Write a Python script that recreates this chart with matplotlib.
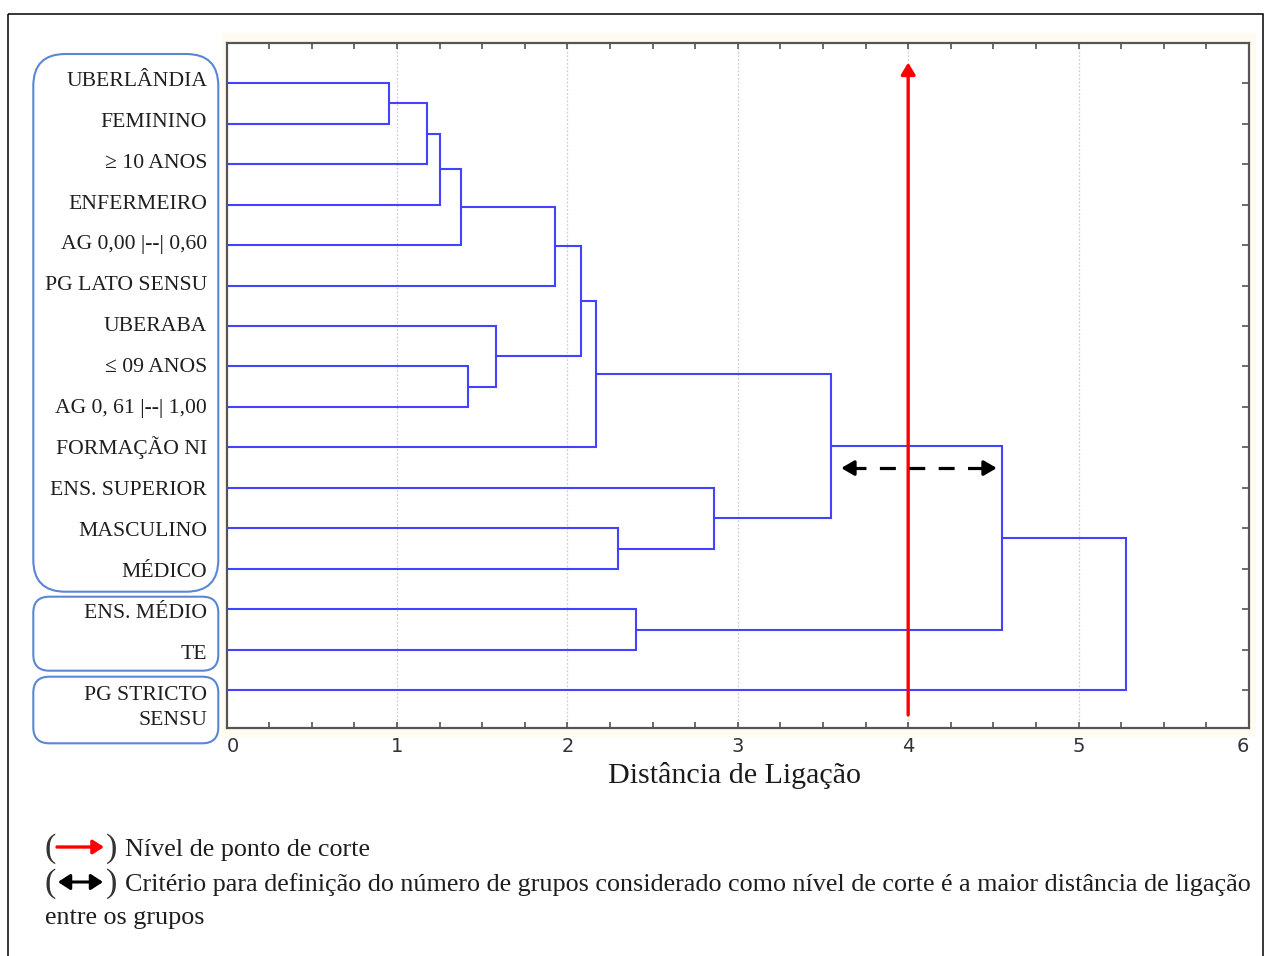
import matplotlib
matplotlib.use("Agg")
import matplotlib.pyplot as plt
from matplotlib.patches import FancyBboxPatch, Rectangle, FancyArrowPatch
from matplotlib.transforms import Affine2D, blended_transform_factory
import numpy as np

# ---------------- data ----------------
leaf_labels = [
    "UBERLÂNDIA", "FEMININO", "≥ 10 ANOS", "ENFERMEIRO", "AG 0,00 |--| 0,60",
    "PG LATO SENSU", "UBERABA", "≤ 09 ANOS", "AG 0, 61 |--| 1,00", "FORMAÇÃO NI",
    "ENS. SUPERIOR", "MASCULINO", "MÉDICO", "ENS. MÉDIO", "TE", "PG STRICTO\nSENSU",
]
# merges: (child_a, child_b) -> new cluster id = 16 + index
merge_left = [0, 16, 17, 18, 7, 6, 19, 22, 23, 11, 13, 10, 24, 28, 29]
merge_right = [1, 2, 3, 4, 8, 20, 5, 21, 9, 12, 14, 25, 27, 26, 15]
merge_dist = [0.955, 1.176, 1.251, 1.378, 1.417, 1.583, 1.927, 2.078, 2.171,
              2.300, 2.405, 2.858, 3.550, 4.548, 5.276]
cut_level = 4.0
gap_from, gap_to = 3.607, 4.52
x_ticks = [0, 1, 2, 3, 4, 5, 6]
x_label = "Distância de Ligação"
caption1 = "Nível de ponto de corte"
caption2 = ("Critério para definição do número de grupos considerado como nível "
            "de corte é a maior distância de ligação")
caption3 = "entre os grupos"

# ---------------- figure ----------------
W, H = 1265, 956
fig = plt.figure(figsize=(W / 100, H / 100), dpi=100)
fig.patch.set_facecolor("white")
px = Affine2D().scale(1 / W, -1 / H).translate(0, 1) + fig.transFigure

SERIF = ["Liberation Serif", "DejaVu Serif"]
BLUE = "#4343ff"
BOXC = "#5a86d6"
TXT = "#1e1e1e"

fig.add_artist(Rectangle((222, 33), 1034, 704, transform=px, facecolor="#fffbf0",
                         edgecolor="none", zorder=-5))
fig.add_artist(Rectangle((7.5, 13.5), 1255, 1000, transform=px, fill=False,
                         edgecolor="black", lw=1.1, zorder=-4))

L, R, T, B = 226.5, 1249, 42.7, 728.3
ax = fig.add_axes([L / W, 1 - B / H, (R - L) / W, (B - T) / H])
ax.set_facecolor("white")
ax.set_xlim(0, 6)
ax.set_ylim(16.94, 0)

# dendrogram
n = len(leaf_labels)
pos = {i: float(i + 1) for i in range(n)}
hgt = {i: 0.0 for i in range(n)}
for k, (a, b, d) in enumerate(zip(merge_left, merge_right, merge_dist)):
    ya, yb = pos[a], pos[b]
    ax.plot([hgt[a], d, d, hgt[b]], [ya, ya, yb, yb], color=BLUE, lw=1.5,
            solid_joinstyle="miter", zorder=3)
    pos[n + k] = (ya + yb) / 2
    hgt[n + k] = d

# grid
for xv in x_ticks[1:-1]:
    ax.axvline(xv, color="#cfcfcf", lw=0.9, ls=(0, (1.5, 1.5)), zorder=1)

# spines and ticks
for s in ax.spines.values():
    s.set_color("#555555")
    s.set_linewidth(1.6)
ax.set_xticks(x_ticks)
ax.set_xticks(np.arange(0, 6.01, 0.25), minor=True)
ax.set_yticks(np.arange(1, n + 1))
ax.set_yticklabels([])
ax.tick_params(axis="both", which="both", direction="in", top=True, right=True,
               color="#444444", width=1.1)
ax.tick_params(axis="x", which="both", length=4)
ax.tick_params(axis="y", length=5)
ax.tick_params(axis="x", which="major", labelsize=14, pad=6, labelcolor="#333333")
xtl = ax.get_xticklabels()
for t in xtl:
    t.set_family("DejaVu Sans")
xtl[0].set_horizontalalignment("left")
xtl[-1].set_horizontalalignment("right")

# cut line
ax.annotate("", xy=(cut_level, 0.49), xytext=(cut_level, 16.61),
            arrowprops=dict(arrowstyle="-|>,head_length=0.5,head_width=0.3",
                            color="#ff0000", lw=2.4, shrinkA=0, shrinkB=0,
                            mutation_scale=14), zorder=5)
# gap arrow
ygap = 10.51
ax.plot([gap_from + 0.05, gap_to - 0.05], [ygap, ygap], color="black", lw=2.3,
        ls=(0, (5.0, 4.2)), zorder=6)
for xa, xb in [(gap_from + 0.07, gap_from), (gap_to - 0.07, gap_to)]:
    ax.annotate("", xy=(xb, ygap), xytext=(xa, ygap),
                arrowprops=dict(arrowstyle="-|>,head_length=0.55,head_width=0.32",
                                color="black", lw=2.3, shrinkA=0, shrinkB=0,
                                mutation_scale=14), zorder=6)

# ---------------- labels ----------------
fig.canvas.draw()
rend = fig.canvas.get_renderer()


def fit(txt, target):
    w = txt.get_window_extent(rend).width
    txt.set_fontsize(txt.get_fontsize() * target / w)
    return txt.get_fontsize()


probe = fig.text(0, 0, "PG LATO SENSU", family=SERIF, fontsize=15)
lab_fs = fit(probe, 162)
probe.remove()

lbl_tr = blended_transform_factory(ax.transAxes, ax.transData)
cap_off = 0.331 * lab_fs * (100 / 72) / 40.47
for i, lab in enumerate(leaf_labels):
    yc = 0.886 + 1.0116 * i
    for j, part in enumerate(lab.split("\n")):
        ax.text(-0.019, yc + cap_off + j * 0.63, part, transform=lbl_tr, ha="right",
                va="baseline", family=SERIF, fontsize=lab_fs, color=TXT,
                clip_on=False)

# rounded boxes
for (x0, y0, x1, y1, r) in [(33.3, 54, 218.3, 591.7, 32), (33.3, 596.7, 218.3, 670.7, 16),
                            (33.3, 676.7, 218.3, 743.3, 16)]:
    fig.add_artist(FancyBboxPatch((x0, y0), x1 - x0, y1 - y0,
                                  boxstyle=f"round,pad=0,rounding_size={r}",
                                  transform=px, fill=False, edgecolor=BOXC, lw=1.5))

# x label
xl = fig.text(734.5, 783, x_label, transform=px, ha="center", va="baseline",
              family=SERIF, fontsize=21, color="#1a1a1a")
fit(xl, 253)

# caption
c2 = fig.text(125, 891, caption2, transform=px, ha="left", va="baseline",
              family=SERIF, fontsize=19, color=TXT)
cfs = fit(c2, 1131)
fig.text(125, 856, caption1, transform=px, ha="left", va="baseline", family=SERIF,
         fontsize=cfs, color=TXT)
fig.text(45, 924, caption3, transform=px, ha="left", va="baseline", family=SERIF,
         fontsize=cfs, color=TXT)
for yb in (857, 892):
    fig.text(44, yb, "(", transform=px, ha="left", va="baseline", family=SERIF,
             fontsize=cfs * 1.3, color="#333333")
    fig.text(117, yb, ")", transform=px, ha="right", va="baseline", family=SERIF,
             fontsize=cfs * 1.3, color="#333333")
fig.add_artist(FancyArrowPatch(
    (57, 847), (104, 847), transform=px, arrowstyle="-|>,head_length=0.5,head_width=0.32",
    color="#ff0000", lw=2.4, mutation_scale=13, shrinkA=0, shrinkB=0))
fig.add_artist(FancyArrowPatch(
    (58, 882), (103, 882), transform=px, arrowstyle="<|-|>,head_length=0.55,head_width=0.36",
    color="black", lw=2.2, mutation_scale=13, shrinkA=0, shrinkB=0))

fig.savefig("out.png", dpi=100, facecolor="white")
